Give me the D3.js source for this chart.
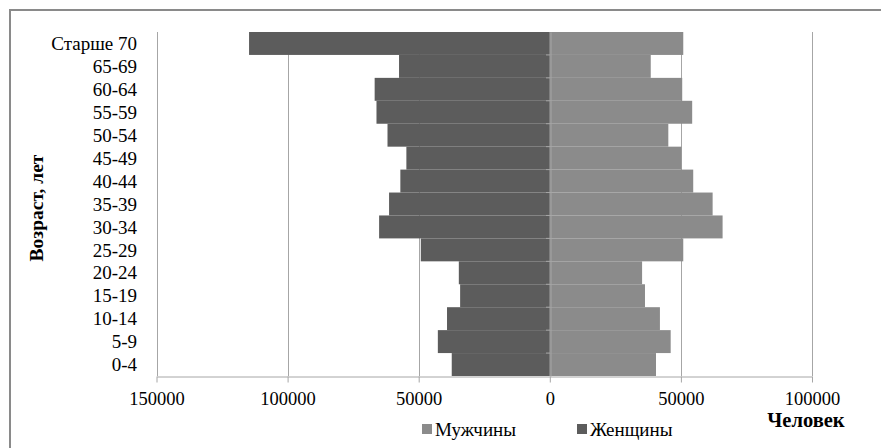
<!DOCTYPE html>
<html><head><meta charset="utf-8">
<script src="https://cdn.jsdelivr.net/npm/d3@7/dist/d3.min.js"></script>
<style>
html,body{margin:0;padding:0;background:#fff;}
svg text{font-family:"Liberation Serif","Times New Roman",Tinos,"DejaVu Serif",serif !important;}
</style></head>
<body><svg id="c" width="881" height="448"></svg>
<script>
const categories = ["0-4","5-9","10-14","15-19","20-24","25-29","30-34","35-39","40-44","45-49","50-54","55-59","60-64","65-69","Старше 70"];
const men   = [40500,46100,42000,36300,35200,50900,65900,62100,54700,50200,45200,54300,50500,38500,50900];
const women = [37400,42700,39200,34200,34700,49200,65100,61300,57000,54700,61900,66100,66800,57500,114700];
const xTicks = [-150000,-100000,-50000,0,50000,100000];
const seriesNames = ["Мужчины","Женщины"];
const colors = {"Мужчины":"#8b8b8b","Женщины":"#5c5c5c"};

const svg = d3.select("#c");
// outer frame
svg.append("rect").attr("x",10).attr("y",10).attr("width",880).attr("height",450)
  .attr("fill","none").attr("stroke","#8a8a8a").attr("stroke-width",2);

const pL=156.5, pR=812, pT=32, pB=376;
const x = d3.scaleLinear().domain([-150000,100000]).range([pL,pR]);
const y = d3.scaleBand().domain(categories.slice().reverse()).range([pT,pB]).padding(0);

const g = svg.append("g");
// gridlines
g.selectAll("line.grid").data(xTicks.filter(d=>d!==0)).join("line")
  .attr("x1",d=>Math.round(x(d))+0.5).attr("x2",d=>Math.round(x(d))+0.5)
  .attr("y1",pT).attr("y2",pB).attr("stroke","#a6a6a6").attr("stroke-width",1);

// bars
g.selectAll("rect.w").data(categories).join("rect")
  .attr("x",(d,i)=>x(-women[i])).attr("width",(d,i)=>x(0)-x(-women[i]))
  .attr("y",d=>y(d)).attr("height",y.bandwidth()).attr("fill",colors["Женщины"]);
g.selectAll("rect.m").data(categories).join("rect")
  .attr("x",x(0)).attr("width",(d,i)=>x(men[i])-x(0))
  .attr("y",d=>y(d)).attr("height",y.bandwidth()).attr("fill",colors["Мужчины"]);

// x axis
const xa = svg.append("g").attr("transform",`translate(0,${pB+0.5})`)
  .call(d3.axisBottom(x).tickValues(xTicks).tickFormat(d=>String(Math.abs(d))).tickSize(6).tickSizeOuter(0));
xa.attr("font-family",null).attr("font-size",null);
xa.select(".domain").attr("stroke","#a6a6a6");
xa.selectAll(".tick line").attr("stroke","#a6a6a6");
xa.selectAll("text").attr("font-size","18.5px").attr("fill","#000").attr("dy","1.05em");

// y axis at zero
const ya = svg.append("g").attr("transform",`translate(${Math.round(x(0))+0.5},0)`)
  .call(d3.axisLeft(y).tickSize(0).tickFormat(""));
ya.select(".domain").attr("stroke","#a6a6a6");
// tick marks between categories
svg.selectAll("line.yt").data(d3.range(1,categories.length)).join("line")
  .attr("x1",Math.round(x(0))-4).attr("x2",Math.round(x(0)))
  .attr("y1",i=>pT+i*y.step()).attr("y2",i=>pT+i*y.step())
  .attr("stroke","#a6a6a6");

// category labels
svg.selectAll("text.cat").data(categories).join("text")
  .attr("x",137).attr("y",d=>y(d)+y.bandwidth()/2).attr("dy","0.35em")
  .attr("text-anchor","end").attr("font-size","19px").attr("fill","#000").text(d=>d);

// axis titles
svg.append("text").attr("transform",`translate(43,${(pT+pB)/2+4}) rotate(-90)`)
  .attr("text-anchor","middle").attr("font-size","19.5px").attr("font-weight","bold").attr("fill","#000")
  .text("Возраст, лет");
svg.append("text").attr("x",806).attr("y",427).attr("text-anchor","middle")
  .attr("font-size","20.5px").attr("font-weight","bold").attr("fill","#000").text("Человек");

// legend
const legX = [422,577];
const lg = svg.selectAll("g.leg").data(seriesNames).join("g")
  .attr("transform",(d,i)=>`translate(${legX[i]},429)`);
lg.append("rect").attr("x",0).attr("y",-5).attr("width",10).attr("height",10).attr("fill",d=>colors[d]);
lg.append("text").attr("x",13).attr("y",0).attr("dy","0.35em").attr("font-size","19px").attr("fill","#000").text(d=>d);
</script></body></html>
